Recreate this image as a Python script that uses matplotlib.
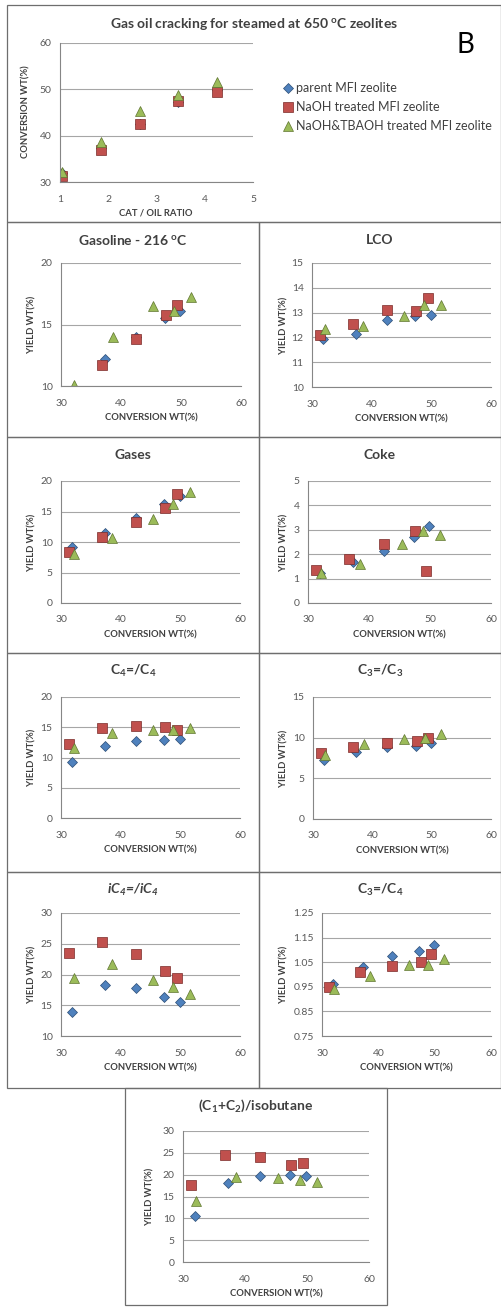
import matplotlib
matplotlib.use('Agg')
import matplotlib.pyplot as plt
from matplotlib.patches import Rectangle
from matplotlib.lines import Line2D

W, H = 502, 1310
plt.rcParams['font.family'] = ['Lato', 'DejaVu Sans']
plt.rcParams['mathtext.default'] = 'regular'

series = ['parent MFI zeolite', 'NaOH treated MFI zeolite', 'NaOH&TBAOH treated MFI zeolite']
cat_oil = [1.05, 1.85, 2.65, 3.45, 4.25]
conv_parent = [31.9, 37.3, 42.5, 47.3, 49.9]
conv_naoh = [31.3, 36.8, 42.5, 47.5, 49.4]
conv_tbaoh = [32.1, 38.6, 45.4, 48.8, 51.6]

# yields (parent, NaOH, NaOH&TBAOH)
gasoline = [[8.9, 12.2, 14.0, 15.5, 16.1], [8.7, 11.7, 13.8, 15.8, 16.6], [10.1, 14.0, 16.5, 16.1, 17.2]]
lco = [[11.95, 12.15, 12.7, 12.85, 12.9], [12.1, 12.55, 13.1, 13.05, 13.6], [12.35, 12.45, 12.85, 13.3, 13.3]]
gases = [[9.2, 11.5, 13.9, 16.3, 17.6], [8.3, 10.8, 13.3, 15.6, 17.8], [8.0, 10.7, 13.7, 16.3, 18.2]]
coke = [[1.25, 1.7, 2.15, 2.7, 3.15], [1.35, 1.8, 2.4, 2.95, 1.3], [1.25, 1.6, 2.4, 2.95, 2.8]]
c4_ratio = [[9.2, 11.9, 12.8, 12.9, 13.0], [12.3, 14.8, 15.2, 15.0, 14.5], [11.6, 14.1, 14.5, 14.6, 14.8]]
c3_ratio = [[7.2, 8.2, 8.9, 9.0, 9.4], [8.1, 8.9, 9.3, 9.6, 10.0], [7.9, 9.2, 9.8, 9.9, 10.4]]
ic4_ratio = [[13.9, 18.3, 17.8, 16.4, 15.6], [23.5, 25.3, 23.3, 20.6, 19.5], [19.4, 21.7, 19.1, 18.0, 16.9]]
c3c4_ratio = [[0.96, 1.03, 1.075, 1.095, 1.12], [0.95, 1.01, 1.035, 1.05, 1.085], [0.94, 0.995, 1.04, 1.04, 1.065]]
c1c2_ratio = [[10.5, 18.2, 19.6, 19.9, 19.6], [17.6, 24.6, 24.0, 22.1, 22.7], [14.0, 19.4, 19.3, 18.8, 18.3]]

markers = ['D', 's', '^']
msizes = [5.2, 7.0, 7.5]
faces = ['#4F81BD', '#C0504D', '#9BBB59']
edges = ['#2C4D75', '#7A2B29', '#5F7530']
TXT = '#404040'
TICK = '#595959'
GRID = '#A6A6A6'

fig = plt.figure(figsize=(W / 100, H / 100), dpi=100)
fig.patch.set_facecolor('white')


def fx(x):
    return x / W


def fy(y):
    return 1 - y / H


def box(l, t, r, b):
    fig.add_artist(Rectangle((fx(l), fy(b)), fx(r) - fx(l), fy(t) - fy(b),
                             transform=fig.transFigure, fill=False,
                             edgecolor='#6E6E6E', linewidth=0.9))


def make_axes(l, t, r, b, xlim, xticks, ylim, yticks, yfmt=None):
    ax = fig.add_axes([fx(l), fy(b), fx(r) - fx(l), fy(t) - fy(b)])
    ax.set_xlim(*xlim)
    ax.set_ylim(*ylim)
    ax.set_xticks(xticks)
    ax.set_yticks(yticks)
    if yfmt:
        ax.set_yticklabels([yfmt.format(v) for v in yticks])
    for s in ['top', 'right']:
        ax.spines[s].set_visible(False)
    for s in ['left', 'bottom']:
        ax.spines[s].set_color('#868686')
        ax.spines[s].set_linewidth(0.8)
    ax.grid(axis='y', color=GRID, linewidth=0.8)
    ax.set_axisbelow(True)
    ax.tick_params(axis='both', length=0, labelsize=7.5, labelcolor=TICK)
    ax.tick_params(axis='x', pad=9)
    ax.tick_params(axis='y', pad=6)
    return ax


def draw_points(ax, xs, ys):
    for i in range(3):
        ax.plot(xs[i], ys[i], linestyle='none', marker=markers[i], markersize=msizes[i],
                markerfacecolor=faces[i], markeredgecolor=edges[i], markeredgewidth=0.5)


# ---- top panel ----
box(7, 5, 501, 222)
ax0 = make_axes(60, 43, 253, 182, (1, 5), [1, 2, 3, 4, 5], (30, 60), [30, 40, 50, 60])
draw_points(ax0, [cat_oil] * 3, [conv_parent, conv_naoh, conv_tbaoh])
fig.text(fx(254), fy(24), 'Gas oil cracking for steamed at 650 $^{o}$C zeolites',
         ha='center', va='center', fontsize=10, fontweight='bold', color=TXT)
fig.text(fx(465), fy(45), 'B', ha='center', va='center', fontsize=20, color='black')
fig.text(fx(156), fy(213), 'CAT / OIL RATIO', ha='center', va='center',
         fontsize=6.8, fontweight='bold', color=TXT)
fig.text(fx(26), fy(112), 'CONVERSION WT(%)', ha='center', va='center', rotation=90,
         fontsize=6.8, fontweight='bold', color=TXT)
handles = [Line2D([], [], linestyle='none', marker=markers[i], markersize=msizes[i],
                  markerfacecolor=faces[i], markeredgecolor=edges[i], markeredgewidth=0.5)
           for i in range(3)]
fig.legend(handles, series, loc='upper left', bbox_to_anchor=(fx(276), fy(76)),
           frameon=False, fontsize=9, handletextpad=0.1, handlelength=1.0,
           labelspacing=0.55, borderpad=0, labelcolor=TXT)

conv = [conv_parent, conv_naoh, conv_tbaoh]
xt = [30, 40, 50, 60]

# (title, panel box, axes box, ylim, yticks, data, yfmt)
panels = [
    ('Gasoline - 216 $^{o}$C', (7, 222, 259, 437), (61, 263, 241, 386), (10, 20), [10, 15, 20], gasoline, None),
    ('LCO', (259, 222, 501, 437), (312, 263, 491, 387), (10, 15), [10, 11, 12, 13, 14, 15], lco, None),
    ('Gases', (7, 437, 259, 653), (61, 481, 240, 603), (0, 20), [0, 5, 10, 15, 20], gases, None),
    ('Coke', (259, 437, 501, 653), (308, 481, 491, 603), (0, 5), [0, 1, 2, 3, 4, 5], coke, None),
    ('C$_4$=/C$_4$', (7, 653, 259, 872), (61, 697, 240, 818), (0, 20), [0, 5, 10, 15, 20], c4_ratio, None),
    ('C$_3$=/C$_3$', (259, 653, 501, 872), (313, 697, 491, 819), (0, 15), [0, 5, 10, 15], c3_ratio, None),
    ('iC$_4$=/iC$_4$', (7, 872, 259, 1088), (61, 913, 240, 1036), (10, 30), [10, 15, 20, 25, 30], ic4_ratio, None),
    ('C$_3$=/C$_4$', (259, 872, 501, 1088), (322, 913, 491, 1036), (0.75, 1.25),
     [0.75, 0.85, 0.95, 1.05, 1.15, 1.25], c3c4_ratio, '{:.2f}'),
    ('(C$_1$+C$_2$)/isobutane', (125, 1088, 387, 1305), (183, 1131, 369, 1262), (0, 30),
     [0, 5, 10, 15, 20, 25, 30], c1c2_ratio, None),
]

for title, pb, ab, ylim, yticks, data, yfmt in panels:
    pl, pt, pr, pbot = pb
    box(pl, pt, pr, pbot)
    l, t, r, b = ab
    ax = make_axes(l, t, r, b, (30, 60), xt, ylim, yticks, yfmt)
    draw_points(ax, conv, data)
    style = 'italic' if title.startswith('iC') else 'normal'
    fig.text(fx((pl + pr) / 2), fy(pt + 18), title, ha='center', va='center',
             fontsize=10, fontweight='bold', style=style, color=TXT)
    fig.text(fx((l + r) / 2), fy(b + 32), 'CONVERSION WT(%)', ha='center', va='center',
             fontsize=6.8, fontweight='bold', color=TXT)
    fig.text(fx(pl + 25), fy((t + b) / 2), 'YIELD WT(%)', ha='center', va='center',
             rotation=90, fontsize=6.8, fontweight='bold', color=TXT)

fig.savefig('out.png', dpi=100, facecolor='white')
